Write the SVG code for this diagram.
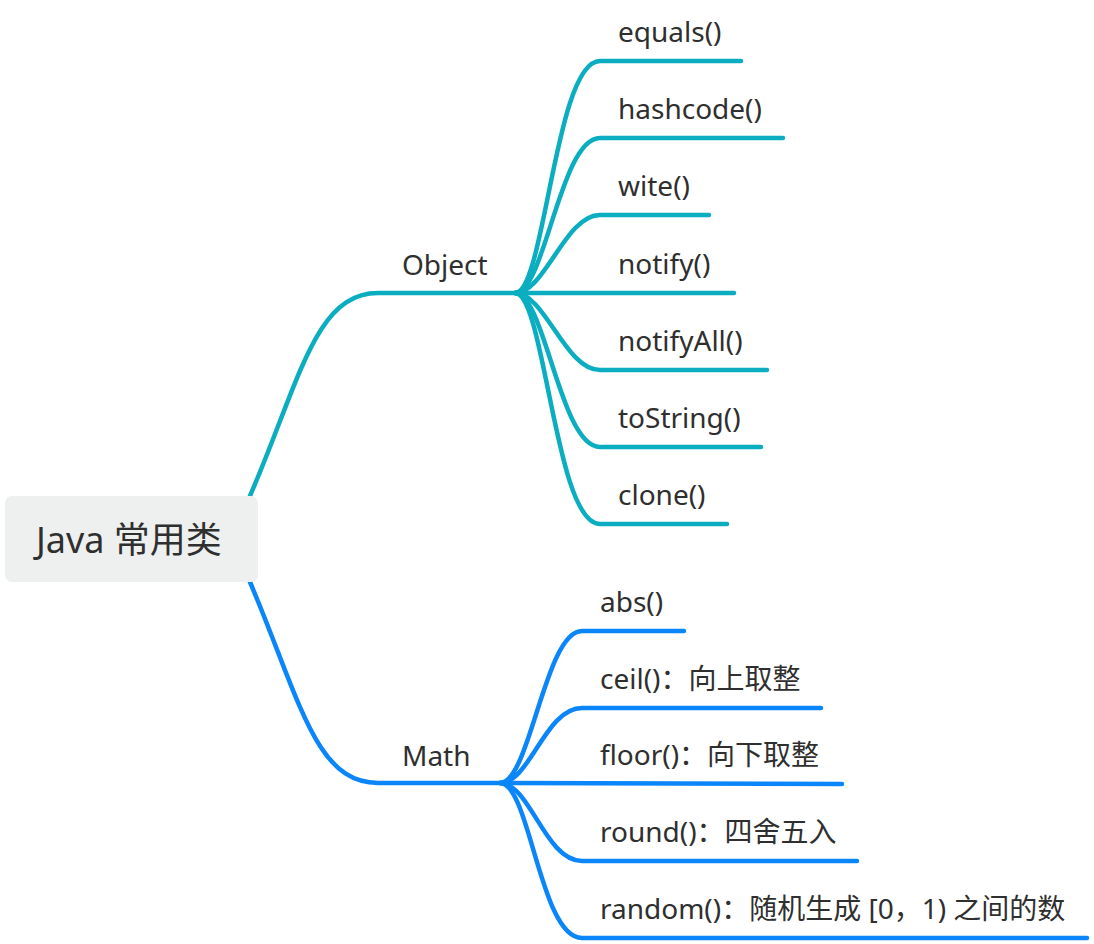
<svg xmlns="http://www.w3.org/2000/svg" width="1094" height="944" viewBox="0 0 1094 944">
<style>
  .t { font-family: "Noto Sans", "Open Sans", "Noto Sans CJK SC", sans-serif; font-size: 28px; fill: #2f2f2f; }
  .root { font-family: "Noto Sans", "Open Sans", "Noto Sans CJK SC", sans-serif; font-size: 36px; fill: #2f2f2f; }
  .teal { fill: none; stroke: #0AAEC0; stroke-width: 4.5; stroke-linecap: round; }
  .blue { fill: none; stroke: #0A86FA; stroke-width: 4.5; stroke-linecap: round; }
</style>
<rect width="1094" height="944" fill="#ffffff"/>
<g id="connectors">
  <path class="teal" d="M250 496 C300 380 315 293 378 293 L515 293"/>
  <path class="teal" d="M515 293 C545 293 555 61 600 61 L741 61"/>
  <path class="teal" d="M515 293 C545 293 560 138 600 138 L783 138"/>
  <path class="teal" d="M515 293 C545 293 565 215 600 215 L709 215"/>
  <path class="teal" d="M515 293 L734 293"/>
  <path class="teal" d="M515 293 C545 293 565 370 600 370 L767 370"/>
  <path class="teal" d="M515 293 C545 293 560 447 600 447 L761 447"/>
  <path class="teal" d="M515 293 C545 293 555 524 600 524 L727 524"/>
  <path class="blue" d="M250 582 C300 700 315 783 378 783 L500 783"/>
  <path class="blue" d="M500 783 C530 783 545 631 582 631 L684 631"/>
  <path class="blue" d="M500 783 C530 783 545 708 582 708 L821 708"/>
  <path class="blue" d="M500 783 L842 784"/>
  <path class="blue" d="M500 783 C530 783 545 861 582 861 L857 861"/>
  <path class="blue" d="M500 783 C530 783 540 938 582 938 L1087 938"/>
</g>
<g id="root">
  <rect x="5" y="496" width="253" height="86" rx="7" fill="#EEF0EF"/>
  <text class="root" x="36" y="553">Java 常用类</text>
</g>
<g id="object"><text class="t" x="402" y="275">Object</text></g>
<g id="equals"><text class="t" x="618" y="42">equals()</text></g>
<g id="hashcode"><text class="t" x="618" y="119">hashcode()</text></g>
<g id="wite"><text class="t" x="618" y="196">wite()</text></g>
<g id="notify"><text class="t" x="618" y="274">notify()</text></g>
<g id="notifyAll"><text class="t" x="618" y="351">notifyAll()</text></g>
<g id="toString"><text class="t" x="618" y="428">toString()</text></g>
<g id="clone"><text class="t" x="618" y="505">clone()</text></g>
<g id="math"><text class="t" x="402" y="766">Math</text></g>
<g id="abs"><text class="t" x="600" y="612">abs()</text></g>
<g id="ceil"><text class="t" x="600" y="689">ceil()：向上取整</text></g>
<g id="floor"><text class="t" x="600" y="765">floor()：向下取整</text></g>
<g id="round"><text class="t" x="600" y="842">round()：四舍五入</text></g>
<g id="random"><text class="t" x="600" y="919">random()：随机生成 [0，1) 之间的数</text></g>
</svg>
